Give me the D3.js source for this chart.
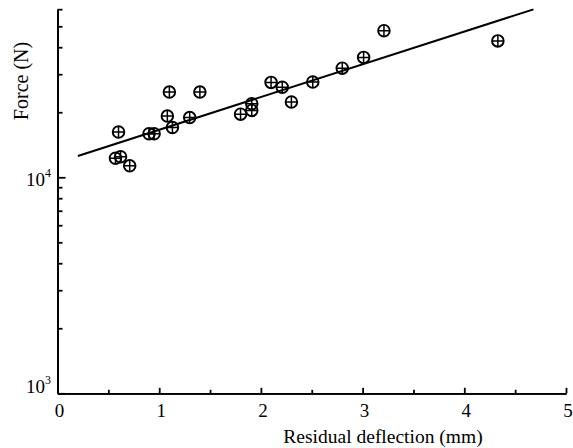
<!DOCTYPE html>
<html lang="en">
	<head>
		<meta charset="utf-8">
		<title>Force vs residual deflection</title>
		<script type="text/javascript" src="https://cdn.jsdelivr.net/npm/d3@7"></script>
		<style type="text/css">
			body { margin: 0; background: #fff; }
			text { font-family: "Liberation Serif", "Times New Roman", serif; }
		</style>
	</head>
	<body>
		<script type="text/javascript">

			//Width and height
			var w = 573;
			var h = 448;

			// measured points: residual deflection (mm) and force (N)
			var deflection = [0.57, 0.62, 0.71, 0.60, 0.90, 0.95, 1.08, 1.10, 1.13, 1.30, 1.40,
			                  1.80, 1.91, 1.91, 2.10, 2.21, 2.30, 2.51, 2.80, 3.01, 3.21, 4.33];
			var force = [12250, 12450, 11300, 16200, 15900, 15900, 19200, 24800, 17000, 18900, 24800,
			             19600, 20400, 21900, 27500, 26100, 22300, 27600, 32000, 35900, 47700, 42800];

			// fitted line end points
			var fitDeflection = [0.2, 4.68];
			var fitForce = [12550, 59900];

			var xTicks = [0, 1, 2, 3, 4, 5];
			var xMinorTicks = [0.5, 1.5, 2.5, 3.5, 4.5];
			var yTicks = [1000, 10000];
			var yTickLabels = ["3", "4"];
			var yMinorTicks = [2000, 3000, 4000, 5000, 6000, 7000, 8000, 9000,
			                   20000, 30000, 40000, 50000, 60000];

			var dataset = deflection.map(function(d, i) {
				return { x: d, f: force[i] };
			});

			var xScale = d3.scaleLinear()
							 .domain([0, 5])
							 .range([57.5, 566]);

			var yScale = d3.scaleLog()
							 .domain([1000, 60000])
							 .range([393.3, 9.2]);

			var svg = d3.select("body")
						.append("svg")
						.attr("width", w)
						.attr("height", h);

			//X axis: major + minor ticks pointing inward
			svg.append("g")
				.attr("class", "x axis")
				.attr("transform", "translate(0,393.3)")
				.call(d3.axisBottom(xScale).tickValues(xMinorTicks).tickSize(-3.5).tickSizeOuter(0).tickFormat(""));

			svg.append("g")
				.attr("class", "x axis")
				.attr("transform", "translate(0,393.3)")
				.call(d3.axisBottom(xScale).tickValues(xTicks).tickSize(-5.5).tickSizeOuter(0).tickFormat(""));

			//Y axis
			svg.append("g")
				.attr("class", "y axis")
				.attr("transform", "translate(57.5,0)")
				.call(d3.axisLeft(yScale).tickValues(yMinorTicks).tickSize(-5).tickSizeOuter(0).tickFormat(""));

			svg.append("g")
				.attr("class", "y axis")
				.attr("transform", "translate(57.5,0)")
				.call(d3.axisLeft(yScale).tickValues(yTicks).tickSize(-8).tickSizeOuter(0).tickFormat(""));

			svg.selectAll(".axis path, .axis line")
				.attr("stroke", "#000")
				.attr("stroke-width", 1.8);

			//X tick labels
			svg.selectAll(".xlabel")
				.data(xTicks)
				.enter()
				.append("text")
				.attr("class", "xlabel")
				.attr("x", function(d) { return xScale(d) + 2; })
				.attr("y", 417)
				.attr("text-anchor", "middle")
				.attr("font-size", "19px")
				.attr("fill", "#000")
				.text(function(d) { return d; });

			//Y tick labels (10 with superscript)
			var ylab = svg.selectAll(".ylabel")
				.data(yTicks)
				.enter()
				.append("text")
				.attr("class", "ylabel")
				.attr("x", 51)
				.attr("y", function(d, i) { return yScale(d) + (i == 0 ? 0 : 9); })
				.attr("text-anchor", "end")
				.attr("font-size", "19px")
				.attr("fill", "#000");
			ylab.append("tspan").text("10");
			ylab.append("tspan")
				.attr("dy", -9)
				.attr("font-size", "12px")
				.text(function(d, i) { return yTickLabels[i]; });

			//Axis titles
			svg.append("text")
				.attr("x", 383)
				.attr("y", 443)
				.attr("text-anchor", "middle")
				.attr("font-size", "19.5px")
				.attr("fill", "#000")
				.text("Residual deflection (mm)");

			svg.append("text")
				.attr("transform", "translate(28,81) rotate(-90)")
				.attr("text-anchor", "middle")
				.attr("font-size", "20px")
				.attr("fill", "#000")
				.text("Force (N)");

			//Fit line
			var line = d3.line()
				.x(function(d) { return xScale(d); })
				.y(function(d, i) { return yScale(fitForce[i]); });

			svg.append("path")
				.datum(fitDeflection)
				.attr("d", line)
				.attr("fill", "none")
				.attr("stroke", "#000")
				.attr("stroke-width", 2);

			//Markers: circle with cross
			var r = 5.8;
			var marks = svg.selectAll(".mark")
				.data(dataset)
				.enter()
				.append("g")
				.attr("class", "mark")
				.attr("transform", function(d) {
					return "translate(" + xScale(d.x) + "," + yScale(d.f) + ")";
				});

			marks.append("circle")
				.attr("r", r)
				.attr("fill", "none")
				.attr("stroke", "#000")
				.attr("stroke-width", 1.9);

			marks.append("path")
				.attr("d", "M" + (-r) + ",0H" + r + "M0," + (-r) + "V" + r)
				.attr("stroke", "#000")
				.attr("stroke-width", 1.5);

		</script>
	</body>
</html>
